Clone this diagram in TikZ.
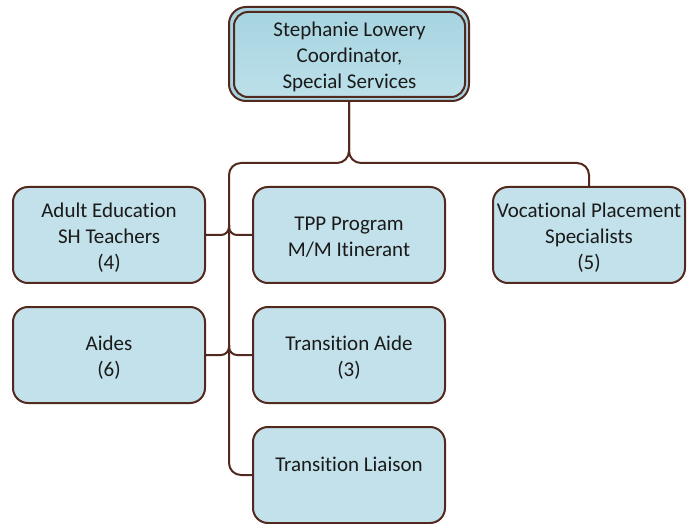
\documentclass[tikz,border=0pt]{standalone}
\usepackage{fontspec}
\setmainfont{Carlito}[Ligatures={NoCommon}]
\usetikzlibrary{calc}
\definecolor{boxfill}{HTML}{C2E1EA}
\definecolor{topfill}{HTML}{A6D4E0}
\definecolor{topfilltwo}{HTML}{BCE0EA}
\definecolor{brd}{HTML}{52291F}
\definecolor{txt}{HTML}{1A1A1A}
\begin{document}
\begin{tikzpicture}[x=1pt,y=-1pt,
  box/.style={draw=brd,line width=2pt,fill=boxfill,rounded corners=15pt,
    minimum width=192pt,minimum height=96pt,inner sep=0pt},
  boxtext/.style={align=center,text=txt,inner sep=0pt,yshift=-2.5pt,
    font=\fontsize{21}{26}\selectfont},
  conn/.style={draw=brd,line width=2pt,rounded corners=12pt},
  jconn/.style={draw=brd,line width=2pt,rounded corners=8pt}]
\useasboundingbox (0,0) rectangle (689,524);
% top box
\node[draw=brd,line width=2pt,fill=topfill,rounded corners=17pt,
  minimum width=240pt,minimum height=94pt] (topframe) at (349,54) {};
\node[draw=brd,line width=2pt,top color=topfill,bottom color=topfilltwo,rounded corners=14pt,
  minimum width=231pt,minimum height=85pt,inner sep=0pt,
  label={[boxtext,yshift=0.5pt]center:Stephanie Lowery\\Coordinator,\\Special Services}] (top) at (349.5,54.5) {};
% boxes
\node[box,label={[boxtext]center:Adult Education\\SH Teachers\\(4)}] (adult) at (109,235) {};
\node[box,label={[boxtext]center:Aides\\(6)}] (aides) at (109,355) {};
\node[box,label={[boxtext]center:TPP Program\\M/M Itinerant}] (tpp) at (349,235) {};
\node[box,label={[boxtext]center:Transition Aide\\(3)}] (taide) at (349,355) {};
\node[box,label={[boxtext,yshift=13pt]center:Transition Liaison}] (liaison) at (349,475) {};
\node[box,label={[boxtext]center:Vocational Placement\\Specialists\\(5)}] (voc) at (589,235) {};
% connectors
\coordinate (split) at (349,163);
\coordinate (bus) at (229,163);
\draw[conn] (topframe.south) -- (split) -- (bus) -- (bus |- liaison.west) -- (liaison.west);
\draw[conn] (topframe.south) -- (split) -- (split -| voc.north) -- (voc.north);
\draw[jconn] (adult.east) -- (bus |- adult.east) -- ($(bus |- adult.east)+(0,-10)$);
\draw[jconn] (tpp.west) -- (bus |- tpp.west) -- ($(bus |- tpp.west)+(0,-10)$);
\draw[jconn] (aides.east) -- (bus |- aides.east) -- ($(bus |- aides.east)+(0,-10)$);
\draw[jconn] (taide.west) -- (bus |- taide.west) -- ($(bus |- taide.west)+(0,-10)$);
\end{tikzpicture}
\end{document}
